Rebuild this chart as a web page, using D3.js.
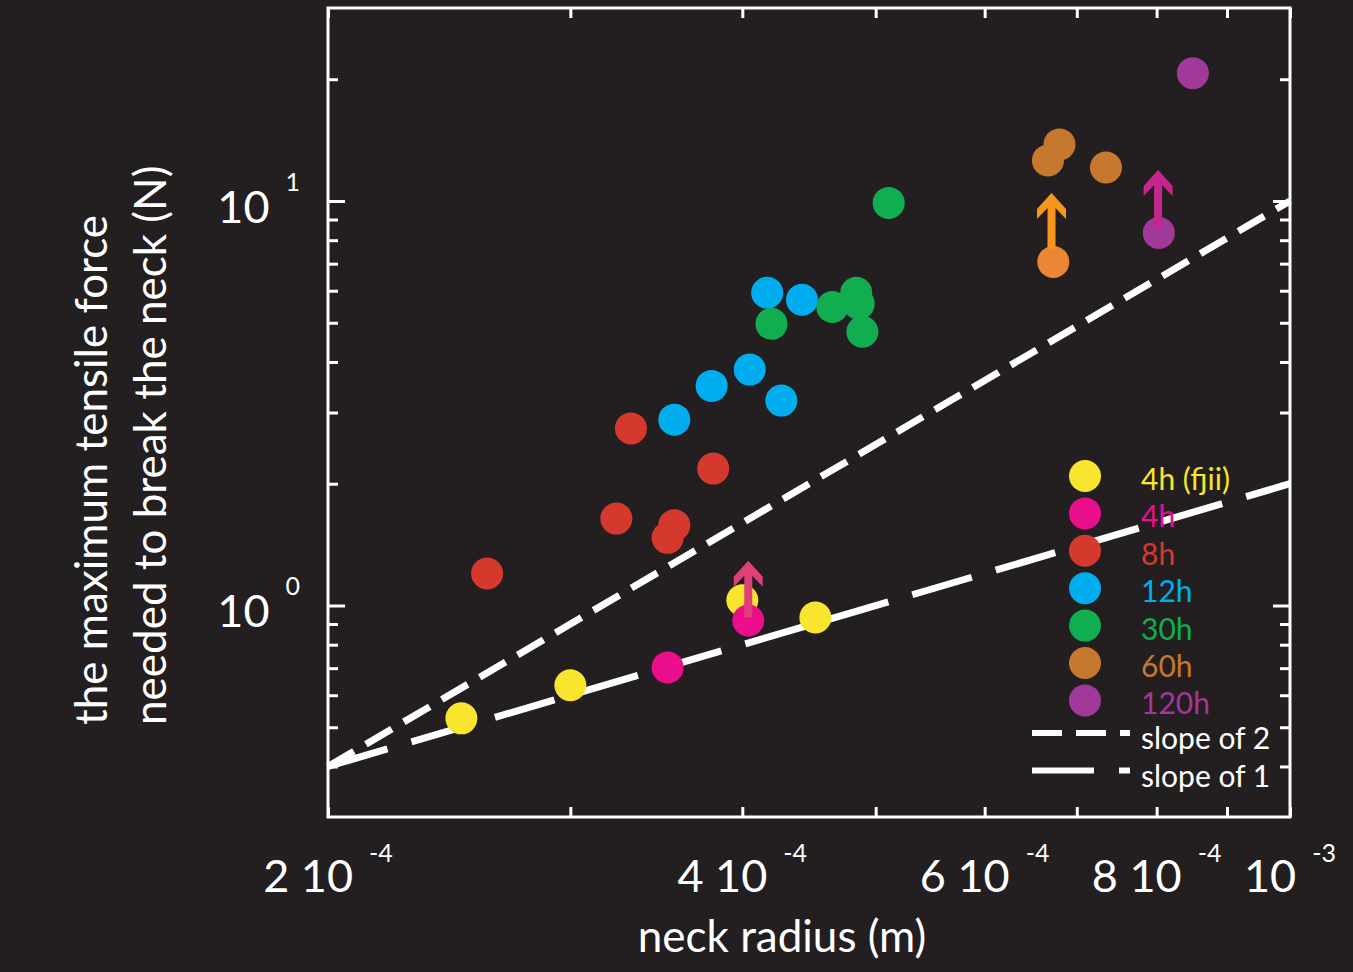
<!DOCTYPE html>
<meta charset="utf-8">
<script src="https://d3js.org/d3.v7.min.js"></script>
<style>
  body { margin: 0; background: #231f20; }
  text { font-family: Lato, "Open Sans", sans-serif; fill: #fff; }
</style>
<div id="chart"></div>
<script>
// series: neck radius (m), max tensile force (N)
var seriesNames = ["4h (fjii)", "4h", "8h", "12h", "30h", "60h", "120h"];
var seriesColors = ["#f9e52d", "#ea0e8b", "#d5392e", "#00aeef", "#10ae4e", "#c6782e", "#a1399b"];

var pts4hFjii = [[2.50e-4, 0.526], [3.00e-4, 0.635], [4.00e-4, 1.03], [4.52e-4, 0.934]];
var pts4h = [[3.53e-4, 0.703], [4.04e-4, 0.918]];
var pts8h = [[2.61e-4, 1.20], [3.24e-4, 1.64], [3.32e-4, 2.74], [3.57e-4, 1.58], [3.53e-4, 1.47], [3.81e-4, 2.18]];
var pts12h = [[3.57e-4, 2.88], [3.80e-4, 3.49], [4.05e-4, 3.83], [4.27e-4, 3.21], [4.17e-4, 5.93], [4.42e-4, 5.70]];
var pts30h = [[4.20e-4, 4.97], [4.65e-4, 5.47], [4.84e-4, 5.93], [4.86e-4, 5.57], [4.89e-4, 4.75], [5.11e-4, 9.89]];
var pts60h = [[6.67e-4, 12.6], [7.35e-4, 12.1], [6.80e-4, 13.8]];
var pts120h = [[8.50e-4, 20.7], [8.03e-4, 8.34]];
var allSeries = [pts4hFjii, pts4h, pts8h, pts12h, pts30h, pts60h, pts120h];

// extra point (lower bound) not in legend
var ptsLower = [[6.73e-4, 7.07]];
var lowerColor = "#eb8634";

// lower-bound arrows: x, from F, to F
var arrowX = [4.04e-4, 6.71e-4, 8.02e-4];
var arrowFrom = [0.934, 7.62, 8.59];
var arrowTo = [1.29, 10.47, 11.93];
var arrowColors = ["#df4079", "#f7951d", "#c4268e"];

// reference power laws F = F0 * (r / r0)^slope
var slopeValues = [2, 1];
var slopeLabels = ["slope of 2", "slope of 1"];
var slopeDash = ["30,14", "62,25"];
var lineR0 = 2e-4, lineF0 = 0.4;

var xTicks = [2e-4, 3e-4, 4e-4, 5e-4, 6e-4, 7e-4, 8e-4, 9e-4, 1e-3];
var xLabelVals = [2e-4, 4e-4, 6e-4, 8e-4, 1e-3];
var xLabelMain = ["2 10", "4 10", "6 10", "8 10", "10"];
var xLabelExp = ["-4", "-4", "-4", "-4", "-3"];
var yMinor = [0.4, 0.5, 0.6, 0.7, 0.8, 0.9, 2, 3, 4, 5, 6, 7, 8, 9, 20];
var yMajor = [1, 10];
var yLabelExp = ["0", "1"];

var W = 1353, H = 972;
var pL = 328, pR = 1290, pT = 8, pB = 817;

var svg = d3.select("#chart").append("svg")
    .attr("width", W).attr("height", H);
svg.append("rect").attr("width", W).attr("height", H).attr("fill", "#231f20");

var x = d3.scaleLog().domain([2e-4, 1e-3]).range([pL, pR]);
var y = d3.scaleLog().domain([0.3, 30]).range([pB, pT]);

// ticks (inward, on all four sides)
function styleAxis(g) {
    g.select(".domain").remove();
    g.selectAll(".tick line").attr("stroke", "#fff").attr("stroke-width", 3);
}
svg.append("g").attr("transform", "translate(0," + pB + ")")
    .call(d3.axisBottom(x).tickValues(xTicks).tickSize(-10).tickFormat(""))
    .call(styleAxis);
svg.append("g").attr("transform", "translate(0," + pT + ")")
    .call(d3.axisTop(x).tickValues(xTicks).tickSize(-10).tickFormat(""))
    .call(styleAxis);
svg.append("g").attr("transform", "translate(" + pL + ",0)")
    .call(d3.axisLeft(y).tickValues(yMinor).tickSize(-10).tickFormat(""))
    .call(styleAxis);
svg.append("g").attr("transform", "translate(" + pL + ",0)")
    .call(d3.axisLeft(y).tickValues(yMajor).tickSize(-17).tickFormat(""))
    .call(styleAxis);
svg.append("g").attr("transform", "translate(" + pR + ",0)")
    .call(d3.axisRight(y).tickValues(yMinor).tickSize(-10).tickFormat(""))
    .call(styleAxis);
svg.append("g").attr("transform", "translate(" + pR + ",0)")
    .call(d3.axisRight(y).tickValues(yMajor).tickSize(-17).tickFormat(""))
    .call(styleAxis);

// frame
svg.append("rect")
    .attr("x", pL).attr("y", pT)
    .attr("width", pR - pL).attr("height", pB - pT)
    .attr("fill", "none").attr("stroke", "#fff").attr("stroke-width", 3);

// x tick labels
xLabelVals.forEach(function(v, i) {
    var t = svg.append("text")
        .attr("x", x(v)).attr("y", 892)
        .attr("text-anchor", "middle")
        .style("font-size", "45px");
    t.append("tspan").text(xLabelMain[i]);
    t.append("tspan").attr("dx", 16).attr("dy", -30)
        .style("font-size", "25px").text(xLabelExp[i]);
});

// y tick labels
yMajor.forEach(function(v, i) {
    var t = svg.append("text")
        .attr("x", 300).attr("y", y(v) + 22)
        .attr("text-anchor", "end")
        .style("font-size", "45px");
    t.append("tspan").text("10");
    t.append("tspan").attr("dx", 16).attr("dy", -32)
        .style("font-size", "25px").text(yLabelExp[i]);
});

// axis titles
svg.append("text")
    .attr("x", 782).attr("y", 952)
    .attr("text-anchor", "middle")
    .style("font-size", "44px")
    .text("neck radius (m)");
svg.append("text")
    .attr("transform", "translate(107,725) rotate(-90)")
    .style("font-size", "44px")
    .text("the maximum tensile force");
svg.append("text")
    .attr("transform", "translate(166,725) rotate(-90)")
    .style("font-size", "44px")
    .text("needed to break the neck (N)");

// power law lines
var line = d3.line().x(function(d) { return x(d[0]); }).y(function(d) { return y(d[1]); });
slopeValues.forEach(function(s, i) {
    var ends = x.domain().map(function(r) { return [r, lineF0 * Math.pow(r / lineR0, s)]; });
    svg.append("path")
        .attr("d", line(ends))
        .attr("fill", "none")
        .attr("stroke", "#fff")
        .attr("stroke-width", 7)
        .attr("stroke-dasharray", slopeDash[i]);
});

// data points
allSeries.forEach(function(pts, i) {
    svg.selectAll(null)
        .data(pts)
        .enter()
        .append("circle")
        .attr("cx", function(d) { return x(d[0]); })
        .attr("cy", function(d) { return y(d[1]); })
        .attr("r", 16)
        .attr("fill", seriesColors[i]);
});
svg.selectAll(null)
    .data(ptsLower)
    .enter()
    .append("circle")
    .attr("cx", function(d) { return x(d[0]); })
    .attr("cy", function(d) { return y(d[1]); })
    .attr("r", 16)
    .attr("fill", lowerColor);

// arrows (drawn tip at 0,0 pointing up)
arrowX.forEach(function(r, i) {
    var x0 = x(r), yTip = y(arrowTo[i]), yBase = y(arrowFrom[i]);
    var L = yBase - yTip;
    var p = "M0,0 L14.5,16 L14.5,26 L4,15 L4," + L + " L-4," + L + " L-4,15 L-14.5,26 L-14.5,16 Z";
    svg.append("path")
        .attr("transform", "translate(" + x0 + "," + yTip + ")")
        .attr("d", p)
        .attr("fill", arrowColors[i]);
});

// legend
var legY0 = 476, legStep = 37.4;
seriesNames.forEach(function(name, i) {
    var cy = legY0 + i * legStep;
    svg.append("circle").attr("cx", 1085).attr("cy", cy).attr("r", 16).attr("fill", seriesColors[i]);
    svg.append("text")
        .attr("x", 1141).attr("y", cy + 14)
        .style("font-size", "30px")
        .style("fill", seriesColors[i])
        .text(name);
});
slopeLabels.forEach(function(name, i) {
    var ly = 733 + i * 37.5;
    svg.append("line")
        .attr("x1", 1032).attr("x2", 1130)
        .attr("y1", ly).attr("y2", ly)
        .attr("stroke", "#fff").attr("stroke-width", 6)
        .attr("stroke-dasharray", slopeDash[i]);
    svg.append("text")
        .attr("x", 1141).attr("y", ly + 16)
        .style("font-size", "30px")
        .text(name);
});
</script>
